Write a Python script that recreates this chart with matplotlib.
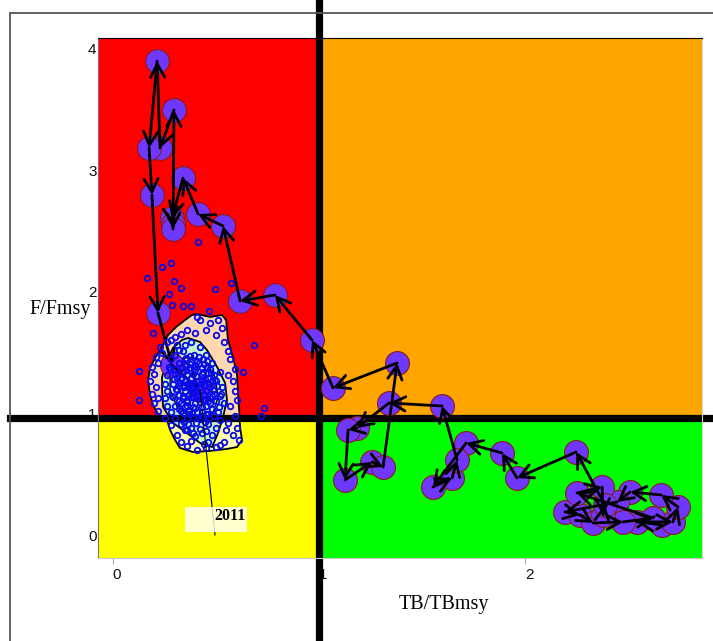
import matplotlib
matplotlib.use("Agg")
import matplotlib.pyplot as plt
import matplotlib.transforms as mtransforms
from matplotlib.patches import Rectangle, Polygon

# trajectory (TB/TBmsy, F/Fmsy), one point per year
years = list(range(1963, 2012))
tb = [2.665, 2.544, 2.718, 2.743, 2.660, 2.510, 2.447, 2.194, 2.267, 2.330, 2.476, 2.621, 2.252, 2.374, 2.379, 2.388,
      2.248, 1.961, 1.888, 1.714, 1.553, 1.646, 1.670, 1.597, 1.340, 1.184, 1.141, 1.126, 1.257, 1.311, 1.379,
      1.068, 0.966, 0.786, 0.617, 0.534, 0.413, 0.340, 0.286, 0.291, 0.291, 0.296, 0.228, 0.214, 0.175, 0.189,
      0.218, 0.286, 0.422]
ff = [0.123, 0.148, 0.148, 0.270, 0.369, 0.393, 0.311, 0.230, 0.205, 0.139, 0.148, 0.180, 0.385, 0.434, 0.205, 0.287,
      0.721, 0.508, 0.713, 0.795, 0.434, 0.508, 0.656, 1.098, 1.123, 0.918, 0.902, 0.492, 0.639, 0.598, 1.451,
      1.246, 1.639, 2.008, 1.959, 2.574, 2.672, 2.967, 2.639, 2.590, 2.549, 3.525, 3.213, 3.926, 3.213, 2.828,
      1.861, 1.434, 1.230]

# uncertainty contours for the last year
outer_tb = [0.408, 0.471, 0.529, 0.549, 0.558, 0.583, 0.602, 0.607, 0.612, 0.617, 0.626, 0.602, 0.553, 0.471,
            0.388, 0.325, 0.301, 0.277, 0.262, 0.218, 0.194, 0.180, 0.170, 0.180, 0.204, 0.238, 0.267, 0.306,
            0.350, 0.383]
outer_f = [1.852, 1.828, 1.844, 1.803, 1.639, 1.492, 1.352, 1.205, 1.066, 0.918, 0.820, 0.762, 0.746, 0.730,
           0.721, 0.754, 0.820, 0.902, 0.984, 1.033, 1.107, 1.189, 1.311, 1.410, 1.492, 1.582, 1.680, 1.746,
           1.803, 1.844]
mid_tb = [0.364, 0.422, 0.456, 0.505, 0.544, 0.553, 0.534, 0.510, 0.481, 0.422, 0.359, 0.291, 0.243, 0.238,
          0.238, 0.262, 0.291, 0.335]
mid_f = [1.656, 1.623, 1.557, 1.418, 1.287, 1.148, 1.008, 0.877, 0.762, 0.795, 0.877, 0.959, 1.090, 1.230,
         1.336, 1.475, 1.574, 1.639]
inner_tb = [0.364, 0.456, 0.495, 0.510, 0.485, 0.437, 0.374, 0.311, 0.277, 0.277, 0.311]
inner_f = [1.500, 1.451, 1.336, 1.172, 1.041, 0.984, 1.008, 1.090, 1.230, 1.369, 1.459]

# bootstrap points
cloud_tb = [0.413, 0.238, 0.282, 0.165, 0.296, 0.330, 0.272, 0.495, 0.573, 0.286, 0.340, 0.379, 0.466, 0.408,
            0.194, 0.126, 0.126, 0.684, 0.631, 0.733, 0.718,
            0.42, 0.47, 0.51, 0.53, 0.45, 0.40, 0.50, 0.54, 0.36, 0.33, 0.30,
            0.56, 0.57, 0.59, 0.56, 0.58, 0.59, 0.60, 0.57, 0.59, 0.56, 0.60, 0.58, 0.55, 0.61, 0.54,
            0.50, 0.45, 0.41, 0.36, 0.33, 0.38, 0.44, 0.52, 0.31,
            0.28, 0.25, 0.22, 0.20, 0.22, 0.19, 0.21, 0.18, 0.20, 0.19, 0.22, 0.21, 0.24, 0.23, 0.26, 0.28,
            0.38, 0.42, 0.35, 0.45, 0.48, 0.52, 0.50, 0.53, 0.52, 0.54, 0.51, 0.52, 0.50, 0.48, 0.46, 0.43,
            0.40, 0.38, 0.35, 0.33, 0.30, 0.28, 0.26, 0.25, 0.26, 0.25, 0.26, 0.27, 0.28, 0.30, 0.32, 0.31,
            0.34, 0.46, 0.44, 0.49,
            0.30, 0.32, 0.35, 0.38, 0.41, 0.44, 0.47, 0.49, 0.46, 0.43, 0.40, 0.37, 0.34, 0.31, 0.29, 0.32,
            0.35, 0.38, 0.41, 0.44, 0.47, 0.49, 0.50, 0.47, 0.44, 0.41, 0.38, 0.35, 0.32, 0.29, 0.30, 0.33,
            0.36, 0.39, 0.42, 0.45, 0.48, 0.46, 0.43, 0.40, 0.37, 0.34, 0.32, 0.36, 0.39, 0.42, 0.40, 0.37,
            0.34, 0.39, 0.43, 0.36, 0.33, 0.45, 0.42, 0.38, 0.36, 0.31, 0.48, 0.46, 0.40, 0.35, 0.30, 0.44,
            0.41, 0.39, 0.37, 0.43, 0.40, 0.34,
            0.315, 0.335, 0.355, 0.375, 0.395, 0.415, 0.435, 0.455, 0.475, 0.495, 0.305, 0.325, 0.345, 0.365,
            0.385, 0.405, 0.425, 0.445, 0.465, 0.485, 0.320, 0.340, 0.360, 0.380, 0.400, 0.420, 0.440, 0.460,
            0.480, 0.330, 0.350, 0.370, 0.390, 0.410, 0.430, 0.450, 0.470, 0.345, 0.365, 0.385, 0.405, 0.425,
            0.445, 0.465, 0.355, 0.375, 0.395, 0.415, 0.435, 0.455, 0.285, 0.295, 0.505, 0.515, 0.275, 0.525,
            0.360, 0.390, 0.420, 0.450]
cloud_f = [2.443, 2.238, 2.270, 2.148, 2.123, 2.066, 2.016, 2.057, 2.107, 1.926, 1.918, 1.918, 1.877, 1.828,
           1.697, 1.385, 1.148, 1.598, 1.377, 1.082, 1.016,
           1.80, 1.78, 1.80, 1.74, 1.72, 1.70, 1.68, 1.62, 1.72, 1.69, 1.66,
           1.55, 1.48, 1.40, 1.35, 1.30, 1.22, 1.15, 1.10, 1.02, 0.96, 0.92, 0.86, 0.90, 0.82, 0.80,
           0.76, 0.75, 0.74, 0.77, 0.80, 0.81, 0.79, 0.78, 0.86,
           0.94, 1.00, 1.06, 1.12, 1.16, 1.20, 1.25, 1.30, 1.36, 1.42, 1.45, 1.50, 1.53, 1.58, 1.62, 1.64,
           1.62, 1.58, 1.60, 1.52, 1.45, 1.38, 1.30, 1.25, 1.18, 1.12, 1.05, 0.98, 0.92, 0.86, 0.80, 0.88,
           0.85, 0.92, 0.90, 0.95, 1.00, 1.05, 1.10, 1.16, 1.22, 1.28, 1.35, 1.42, 1.48, 1.52, 1.56, 1.60,
           1.55, 0.95, 1.00, 1.02,
           1.40, 1.45, 1.48, 1.46, 1.47, 1.44, 1.40, 1.35, 1.33, 1.36, 1.39, 1.41, 1.38, 1.33, 1.28, 1.26,
           1.30, 1.33, 1.30, 1.27, 1.25, 1.20, 1.14, 1.16, 1.19, 1.22, 1.24, 1.22, 1.19, 1.17, 1.10, 1.12,
           1.15, 1.17, 1.13, 1.10, 1.07, 1.03, 1.05, 1.08, 1.06, 1.04, 1.07, 1.00, 1.01, 0.99, 1.12, 1.19,
           1.27, 1.36, 1.41, 1.35, 1.32, 1.22, 1.25, 1.28, 1.10, 1.23, 1.30, 1.37, 1.43, 1.43, 1.36, 1.15,
           1.18, 1.21, 1.26, 1.31, 1.27, 1.16,
           1.37, 1.42, 1.39, 1.44, 1.41, 1.45, 1.38, 1.42, 1.37, 1.31, 1.24, 1.29, 1.25, 1.29, 1.25, 1.34,
           1.28, 1.32, 1.28, 1.23, 1.14, 1.18, 1.13, 1.17, 1.21, 1.16, 1.20, 1.14, 1.18, 1.06, 1.09, 1.03,
           1.09, 1.05, 1.09, 1.03, 1.12, 0.97, 0.95, 1.04, 0.96, 1.02, 0.97, 1.00, 1.49, 1.51, 1.52, 1.50,
           1.48, 1.47, 1.18, 1.32, 1.26, 1.09, 1.40, 1.20, 0.90, 0.88, 0.91, 0.89]

xlim = (-0.073, 2.859)
ylim = (-0.148, 4.115)

fig = plt.figure(figsize=(7.13, 6.41), dpi=100)
ax = fig.add_axes([98 / 713, 83 / 641, 604 / 713, 520 / 641])
ax.set_xlim(*xlim)
ax.set_ylim(*ylim)

# outer frame
fig.add_artist(Rectangle((10 / 713, -0.05), 1.0, 1 - 13 / 641 + 0.05, transform=fig.transFigure,
                         fill=False, edgecolor='#555555', lw=1.3))

# quadrants
ax.add_patch(Rectangle((xlim[0], 1), 1 - xlim[0], ylim[1] - 1, color='#FF0000', lw=0, zorder=0.5))
ax.add_patch(Rectangle((1, 1), xlim[1] - 1, ylim[1] - 1, color='#FFA500', lw=0, zorder=0.5))
ax.add_patch(Rectangle((xlim[0], ylim[0]), 1 - xlim[0], 1 - ylim[0], color='#FFFF00', lw=0, zorder=0.5))
ax.add_patch(Rectangle((1, ylim[0]), xlim[1] - 1, 1 - ylim[0], color='#00FF00', lw=0, zorder=0.5))

# contours
ax.add_patch(Polygon(list(zip(outer_tb, outer_f)), closed=True, facecolor='#FFFFD0', alpha=0.85,
                     edgecolor='none', zorder=1))
ax.add_patch(Polygon(list(zip(outer_tb, outer_f)), closed=True, fill=False, edgecolor='black', lw=1.3, zorder=1.1))
ax.add_patch(Polygon(list(zip(mid_tb, mid_f)), closed=True, facecolor='#C6F5C6', edgecolor='black',
                     lw=1.3, zorder=1.2))
ax.add_patch(Polygon(list(zip(inner_tb, inner_f)), closed=True, facecolor='#C6EEFF', edgecolor='black',
                     lw=1.0, zorder=1.3))

# reference lines
ax.axvline(1, ymin=-0.17, ymax=1.08, color='black', lw=5.2, clip_on=False, zorder=2)
ax.axhline(1, xmin=-0.146, xmax=1.05, color='black', lw=5.2, clip_on=False, zorder=2)

# trajectory
ax.scatter(tb, ff, s=295, facecolor='#7038FF', edgecolor='#8B1A1A', linewidth=0.8, zorder=3)
for i in range(1, len(tb)):
    ax.annotate('', xy=(tb[i], ff[i]), xytext=(tb[i - 1], ff[i - 1]),
                arrowprops=dict(arrowstyle='->,head_length=0.6,head_width=0.32', color='black', lw=2,
                                shrinkA=0, shrinkB=0, mutation_scale=16), zorder=4)

ax.plot(cloud_tb, cloud_f, 'o', mfc='none', mec='#0A0AE6', ms=4.0, mew=1.3, zorder=5)

# last year label
ax.plot([tb[-1], 0.495], [ff[-1], 0.041], color='black', lw=0.8, zorder=5)
ax.add_patch(Rectangle((0.350, 0.066), 0.300, 0.204, facecolor='white', alpha=0.82, lw=0, zorder=6))
ax.text(0.645, 0.20, str(years[-1]), ha='right', va='center', fontsize=11.5, fontweight='bold',
        family='Liberation Serif', zorder=7)

# axes styling
ax.spines['left'].set_color('#777777')
ax.spines['bottom'].set_color('#C8C8C8')
ax.spines['right'].set_color('#D8D8D8')
ax.spines['top'].set_color('black')
for s in ax.spines.values():
    s.set_zorder(2.5)
ax.set_xticks([0, 1, 2])
ax.set_yticks([0, 1, 2, 3, 4])
ax.tick_params(axis='x', length=4, color='#AAAAAA', pad=3, labelsize=11)
ax.tick_params(axis='y', length=0, pad=1, labelsize=11)
shift_x = mtransforms.ScaledTranslation(4 / 100, 0, fig.dpi_scale_trans)
shift_y = mtransforms.ScaledTranslation(0, 4 / 100, fig.dpi_scale_trans)
for lab in ax.get_xticklabels():
    lab.set_transform(lab.get_transform() + shift_x)
for lab in ax.get_yticklabels():
    lab.set_transform(lab.get_transform() + shift_y)
for lab in ax.get_xticklabels() + ax.get_yticklabels():
    lab.set_family('Liberation Sans')
    lab.set_color('#111111')
    lab.set_zorder(3)

fig.text(60 / 713, 1 - 310 / 641, 'F/Fmsy', ha='center', va='center', fontsize=14.5, family='Liberation Serif')
fig.text(444 / 713, 1 - 604 / 641, 'TB/TBmsy', ha='center', va='center', fontsize=14.5,
         family='Liberation Serif')

fig.savefig('out.png', dpi=100)
